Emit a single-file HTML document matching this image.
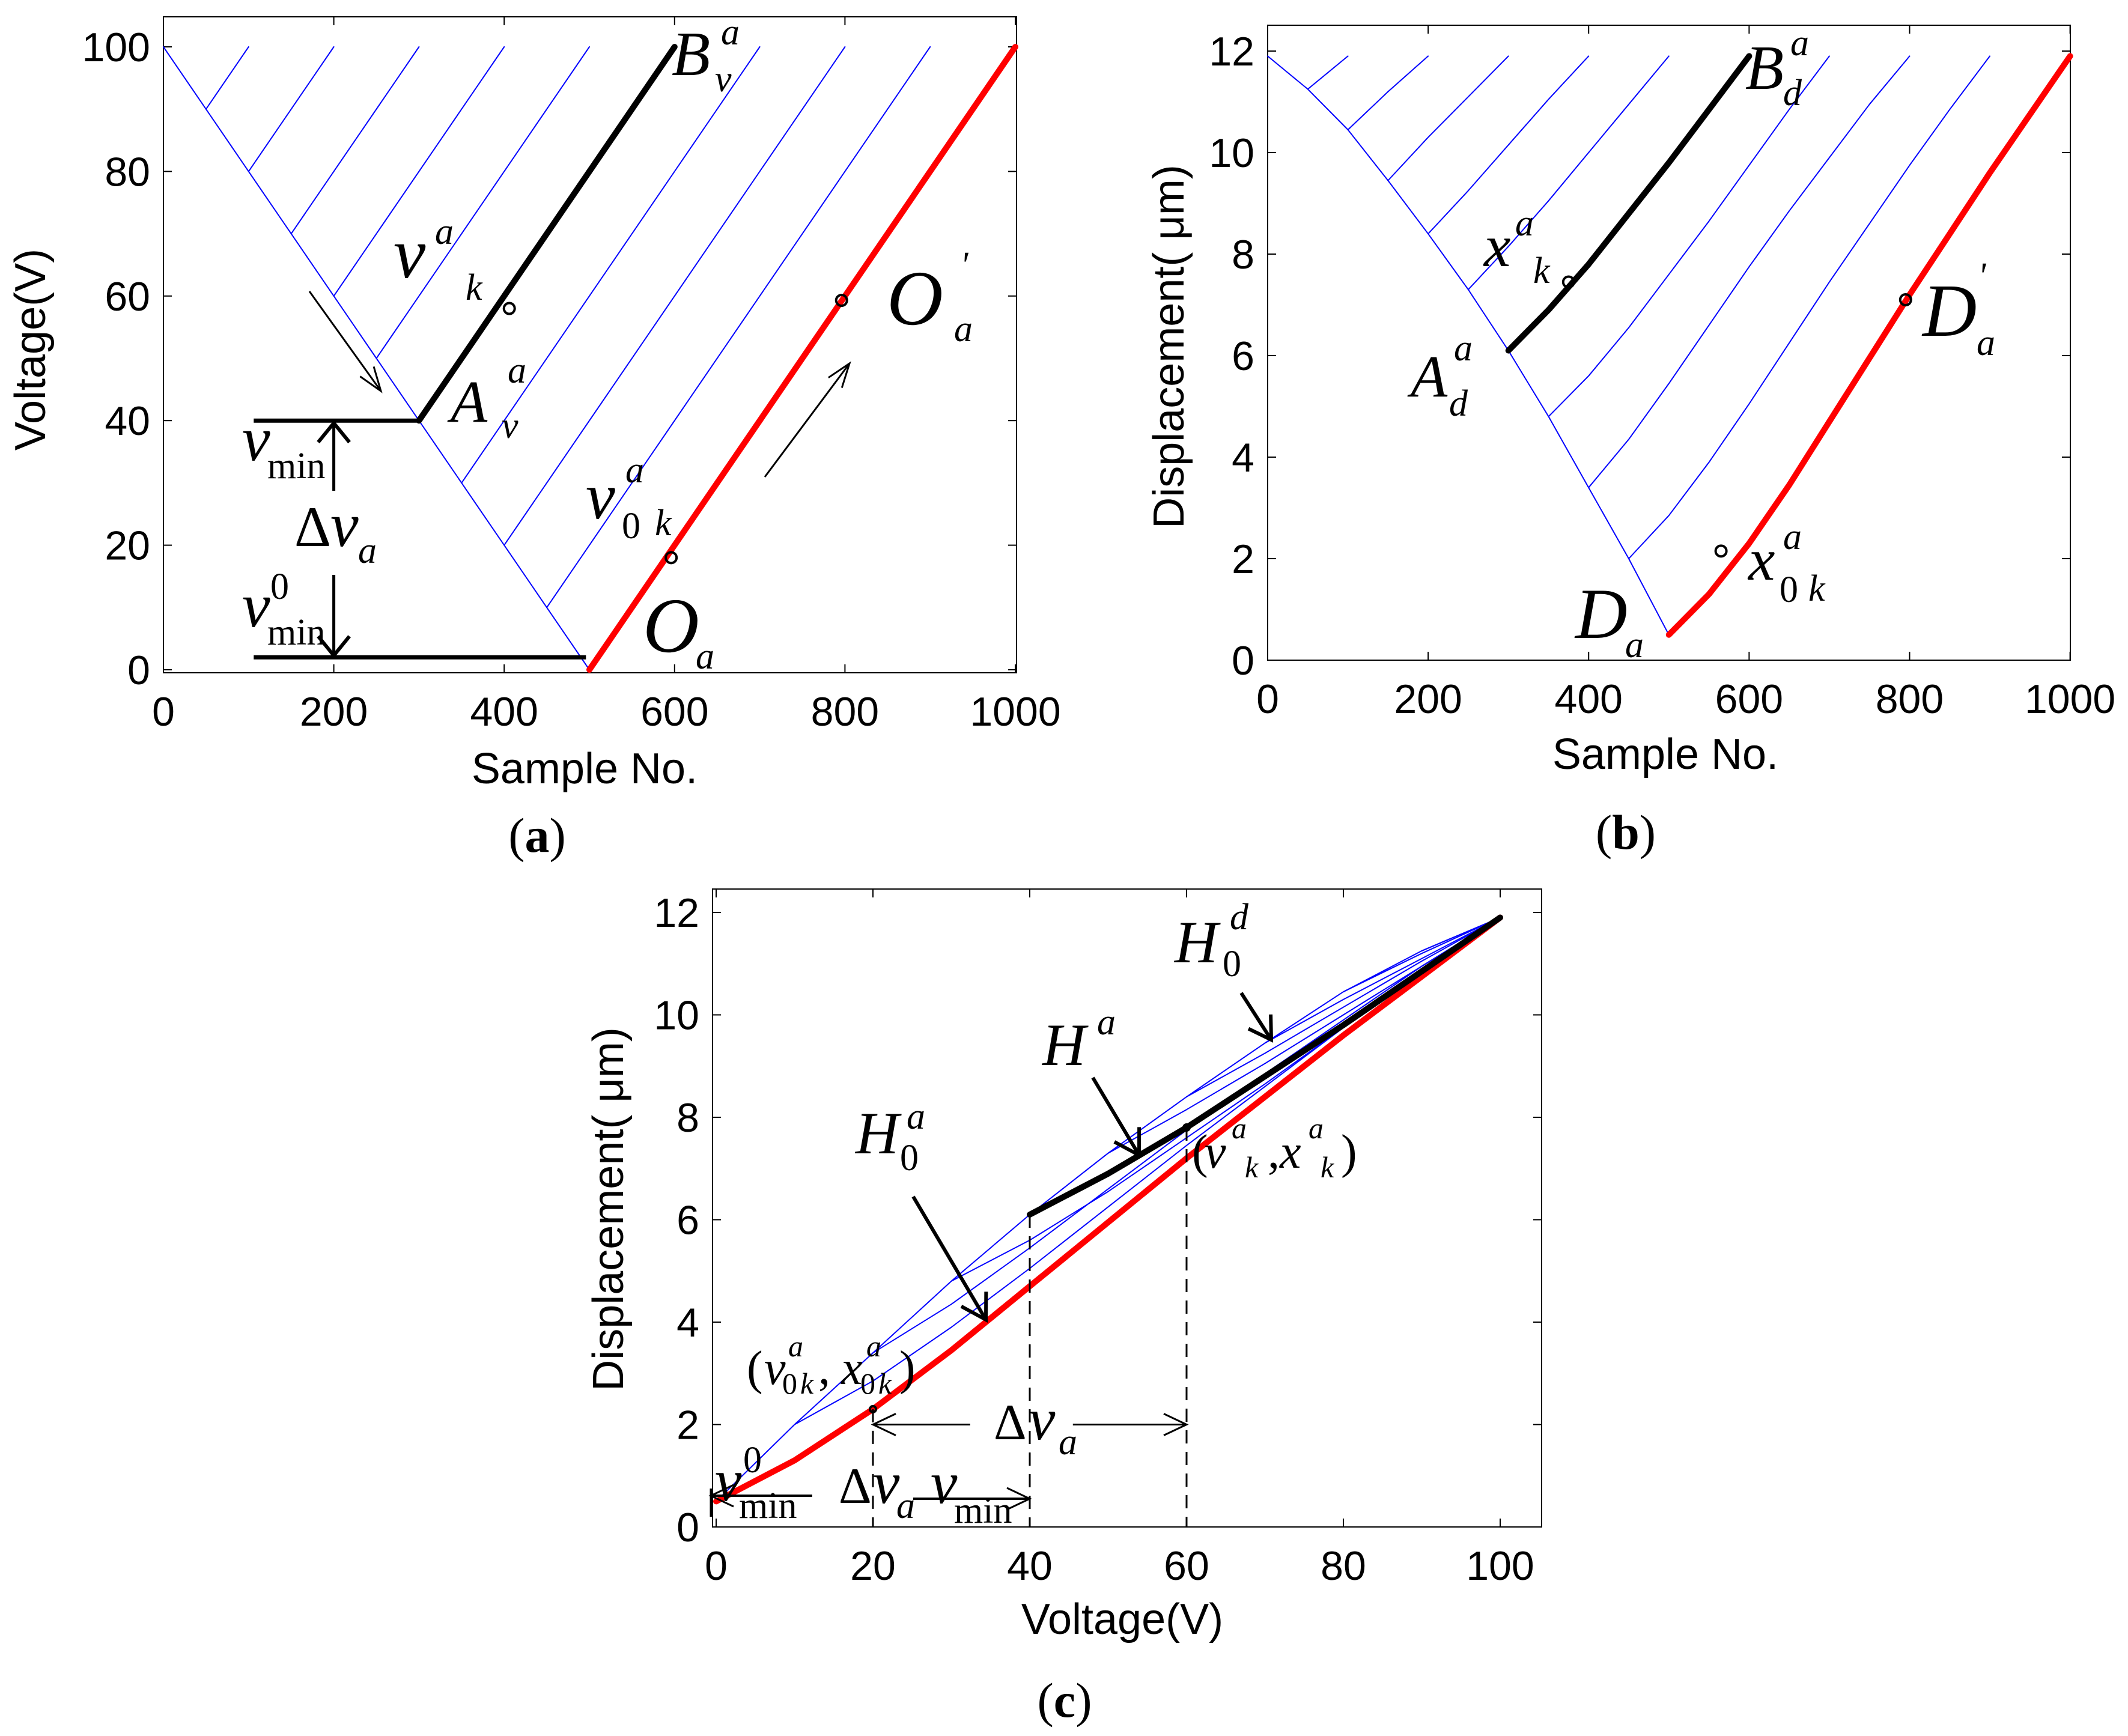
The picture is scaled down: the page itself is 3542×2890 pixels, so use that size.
<!DOCTYPE html>
<html><head><meta charset="utf-8"><style>
html,body{margin:0;padding:0;background:#fff;}
svg{display:block;}
.tk{font-family:"Liberation Sans",sans-serif;font-size:68px;fill:#000;}
.al{font-family:"Liberation Sans",sans-serif;font-size:72px;fill:#000;}
.it{font-family:"Liberation Serif",serif;font-style:italic;fill:#000;}
.rm{font-family:"Liberation Serif",serif;fill:#000;}
.cap{font-family:"Liberation Serif",serif;font-size:82px;fill:#000;}
</style></head><body>
<svg id="fig" xmlns="http://www.w3.org/2000/svg" width="3542" height="2890" viewBox="0 0 3542 2890">
<rect x="0" y="0" width="3542" height="2890" fill="#fff"/>
<g id="pa"></g>
<g id="pb"></g>
<g id="pc"></g>

<g>
<text class="it" x="1118" y="125" font-size="105">B</text><text class="it" x="1200" y="74" font-size="62">a</text><text class="it" x="1190" y="152" font-size="62">v</text>
<text class="it" x="655" y="462" font-size="120">v</text><text class="it" x="724" y="406" font-size="62">a</text><text class="it" x="775" y="499" font-size="62">k</text>
<text class="it" x="750" y="702" font-size="100">A</text><text class="it" x="845" y="637" font-size="62">a</text><text class="it" x="835" y="729" font-size="62">v</text>
<text class="it" x="1476" y="540" font-size="130">O</text><text class="it" x="1598" y="462" font-size="62">'</text><text class="it" x="1588" y="568" font-size="62">a</text>
<text class="it" x="975" y="863" font-size="110">v</text><text class="it" x="1041" y="803" font-size="62">a</text><text class="rm" x="1035" y="896" font-size="62">0</text><text class="it" x="1090" y="891" font-size="62">k</text>
<text class="it" x="1070" y="1085" font-size="130">O</text><text class="it" x="1158" y="1113" font-size="62">a</text>
<text class="it" x="403" y="766" font-size="105">v</text><text class="rm" x="445" y="796" font-size="62">min</text>
<text class="rm" x="490" y="909" font-size="95">Δ</text><text class="it" x="550" y="909" font-size="105">v</text><text class="it" x="596" y="937" font-size="62">a</text>
<text class="it" x="403" y="1043" font-size="105">v</text><text class="rm" x="450" y="997" font-size="62">0</text><text class="rm" x="445" y="1073" font-size="62">min</text>
</g>
<g>
<text class="it" x="2905" y="148" font-size="105">B</text><text class="it" x="2980" y="92" font-size="62">a</text><text class="it" x="2968" y="175" font-size="62">d</text>
<text class="it" x="2470" y="443" font-size="100">x</text><text class="it" x="2522" y="392" font-size="62">a</text><text class="it" x="2552" y="471" font-size="62">k</text>
<text class="it" x="2348" y="660" font-size="100">A</text><text class="it" x="2420" y="600" font-size="62">a</text><text class="it" x="2412" y="692" font-size="62">d</text>
<text class="it" x="3200" y="559" font-size="125">D</text><text class="it" x="3292" y="480" font-size="62">'</text><text class="it" x="3290" y="591" font-size="62">a</text>
<text class="it" x="2910" y="965" font-size="100">x</text><text class="it" x="2968" y="914" font-size="62">a</text><text class="rm" x="2962" y="1002" font-size="62">0</text><text class="it" x="3010" y="1000" font-size="62">k</text>
<text class="it" x="2622" y="1062" font-size="120">D</text><text class="it" x="2705" y="1094" font-size="62">a</text>
</g>
<g>
<text class="it" x="1955" y="1602" font-size="100">H</text><text class="it" x="2047" y="1547" font-size="62">d</text><text class="rm" x="2035" y="1625" font-size="62">0</text>
<text class="it" x="1735" y="1773" font-size="100">H</text><text class="it" x="1826" y="1722" font-size="62">a</text>
<text class="it" x="1424" y="1920" font-size="100">H</text><text class="it" x="1509" y="1879" font-size="62">a</text><text class="rm" x="1498" y="1948" font-size="62">0</text>
<text class="rm" x="1984" y="1944" font-size="80">(</text><text class="it" x="2005" y="1944" font-size="80">v</text><text class="it" x="2050" y="1895" font-size="50">a</text><text class="it" x="2072" y="1960" font-size="50">k</text><text class="rm" x="2110" y="1944" font-size="80">,</text><text class="it" x="2130" y="1944" font-size="80">x</text><text class="it" x="2178" y="1895" font-size="50">a</text><text class="it" x="2198" y="1960" font-size="50">k</text><text class="rm" x="2232" y="1944" font-size="80">)</text>
<text class="rm" x="1243" y="2304" font-size="80">(</text><text class="it" x="1272" y="2304" font-size="80">v</text><text class="it" x="1312" y="2258" font-size="50">a</text><text class="rm" x="1302" y="2320" font-size="50">0</text><text class="it" x="1332" y="2320" font-size="50">k</text><text class="rm" x="1362" y="2304" font-size="80">,</text><text class="it" x="1400" y="2304" font-size="80">x</text><text class="it" x="1442" y="2258" font-size="50">a</text><text class="rm" x="1432" y="2320" font-size="50">0</text><text class="it" x="1462" y="2320" font-size="50">k</text><text class="rm" x="1497" y="2304" font-size="80">)</text>
<text class="rm" x="1654" y="2396" font-size="85">Δ</text><text class="it" x="1712" y="2396" font-size="100">v</text><text class="it" x="1762" y="2421" font-size="62">a</text>
<text class="it" x="1190" y="2498" font-size="100">v</text><text class="rm" x="1237" y="2451" font-size="62">0</text><text class="rm" x="1230" y="2527" font-size="62">min</text>
<text class="rm" x="1396" y="2502" font-size="85">Δ</text><text class="it" x="1453" y="2502" font-size="100">v</text><text class="it" x="1492" y="2527" font-size="62">a</text><text class="it" x="1549" y="2502" font-size="100">v</text><text class="rm" x="1588" y="2535" font-size="62">min</text>
</g>
<g>
<text class="cap" x="894" y="1418" text-anchor="middle"><tspan>(</tspan><tspan font-weight="bold">a</tspan><tspan>)</tspan></text>
<text class="cap" x="2706" y="1413" text-anchor="middle"><tspan>(</tspan><tspan font-weight="bold">b</tspan><tspan>)</tspan></text>
<text class="cap" x="1772" y="2858" text-anchor="middle"><tspan>(</tspan><tspan font-weight="bold">c</tspan><tspan>)</tspan></text>
</g>
</svg>
<script>
const vGrid = [0,10,20,30,40,50,60,70,80,90,100];
const descDisp = [0.5,2.0,3.4,4.8,6.1,7.3,8.4,9.45,10.45,11.25,11.9];
const descSamples = [0,50,100,150,200,250,300,350,400,450,500];
const descVoltage = [100,90,80,70,60,50,40,30,20,10,0];
const branchMin = [0,10,20,30,40,50,60,70,80,90];
const branch0 = [0.5,1.3,2.3,3.45,4.7,5.95,7.2,8.4,9.6,10.75,11.9];
const branch10 = [2.0,2.85,3.9,5.05,6.25,7.45,8.6,9.75,10.85,11.9];
const branch20 = [3.4,4.35,5.45,6.6,7.75,8.85,9.9,10.95,11.9];
const branch30 = [4.8,5.6,6.55,7.6,8.65,9.75,10.85,11.9];
const branch40 = [6.1,6.9,7.8,8.8,9.8,10.85,11.9];
const branch50 = [7.3,8.15,9.05,10.0,10.95,11.9];
const branch60 = [8.4,9.25,10.15,11.05,11.9];
const branch70 = [9.45,10.3,11.1,11.9];
const branch80 = [10.45,11.2,11.9];
const branch90 = [11.25,11.9];
const branches = [branch0,branch10,branch20,branch30,branch40,branch50,branch60,branch70,branch80,branch90];
const peakVoltage = 100;
const samplesPerVolt = 5;
const descEnd = 500;
const xTicksA = [0,200,400,600,800,1000];
const yTicksA = [0,20,40,60,80,100];
const yTicksB = [0,2,4,6,8,10,12];
const xTicksC = [0,20,40,60,80,100];
const highlight = 40;
const markA = [[406,58],[596,18],[796,59.3]];
const markB = [[375,7.45],[565,2.15],[795,7.1]];
const markC = [[20,2.3],[60,7.8]];

const NS='http://www.w3.org/2000/svg';
function mk(tag, parent){const e=document.createElementNS(NS,tag);parent.appendChild(e);return e;}
function poly(parent, pts, color, w){
  const p=mk('polyline',parent);
  p.setAttribute('points',pts.map(q=>q[0].toFixed(1)+','+q[1].toFixed(1)).join(' '));
  p.setAttribute('fill','none');p.setAttribute('stroke',color);p.setAttribute('stroke-width',w);
  p.setAttribute('stroke-linejoin','round');p.setAttribute('stroke-linecap','round');
  return p;
}
function line(parent,x1,y1,x2,y2,w,dash){
  const l=mk('line',parent);
  l.setAttribute('x1',x1);l.setAttribute('y1',y1);l.setAttribute('x2',x2);l.setAttribute('y2',y2);
  l.setAttribute('stroke','#000');l.setAttribute('stroke-width',w);
  if(dash)l.setAttribute('stroke-dasharray',dash);
  return l;
}
function text(parent,x,y,s,cls,anchor){
  const t=mk('text',parent);t.setAttribute('x',x);t.setAttribute('y',y);t.setAttribute('class',cls);
  if(anchor)t.setAttribute('text-anchor',anchor);t.textContent=s;return t;
}
function head(parent,x,y,ang,len,half,w){
  const a=ang*Math.PI/180;
  const bx=x-len*Math.cos(a), by=y-len*Math.sin(a);
  const px=-Math.sin(a)*half, py=Math.cos(a)*half;
  const p=mk('polyline',parent);
  p.setAttribute('points',`${bx+px},${by+py} ${x},${y} ${bx-px},${by-py}`);
  p.setAttribute('fill','none');p.setAttribute('stroke','#000');p.setAttribute('stroke-width',w);
  return p;
}
function arrow(parent,x1,y1,x2,y2,w,len,half,hw){
  const l=line(parent,x1,y1,x2,y2,w);
  const ang=Math.atan2(y2-y1,x2-x1)*180/Math.PI;
  head(parent,x2,y2,ang,len,half,hw||w);
  return l;
}
function circ(parent,x,y,r){
  const c=mk('circle',parent);c.setAttribute('cx',x);c.setAttribute('cy',y);c.setAttribute('r',r);
  c.setAttribute('fill','none');c.setAttribute('stroke','#000');c.setAttribute('stroke-width',4);return c;
}
function frame(g,L,T,R,B,xt,yt,X,Y,xlab,ylab,tickLen){
  const r=mk('rect',g);r.setAttribute('x',L);r.setAttribute('y',T);r.setAttribute('width',R-L);r.setAttribute('height',B-T);
  r.setAttribute('fill','none');r.setAttribute('stroke','#000');r.setAttribute('stroke-width',2);
  
  xt.forEach(v=>{const x=X(v);line(g,x,B,x,B-tickLen,2);line(g,x,T,x,T+tickLen,2);
    const t=text(g,x,B+88,String(v),'tk','middle');
    
    });
  yt.forEach(v=>{const y=Y(v);line(g,L,y,L+tickLen,y,2);line(g,R,y,R-tickLen,y,2);
    const t=text(g,L-22,y+24,String(v),'tk','end');
    
    });
  const xl=text(g,xlab[1],xlab[2],xlab[0],'al','middle');
  
  
  const yl=text(g,0,0,ylab[0],'al','middle');
  yl.setAttribute('transform',`translate(${ylab[1]},${ylab[2]}) rotate(-90)`);
  
  
}
function colorOf(i){return branchMin[i]===0?'#ff0000':(branchMin[i]===highlight?'#000':'#0000ff');}
function widthOf(i){return branchMin[i]===0||branchMin[i]===highlight?10:2;}

(function(){
  const g=document.getElementById('pa');
  const X=s=>272+s*1.418, Y=v=>1115-v*10.37;
  frame(g,272,28,1692,1120,xTicksA,yTicksA,X,Y,['Sample No.',973,1304],['Voltage(V)',75,582],14);
  const d=poly(g,descSamples.map((s,i)=>[X(s),Y(descVoltage[i])]),'#0000ff',2);
  
  
  branches.forEach((b,i)=>{
    const vmin=branchMin[i], s0=descEnd-vmin*samplesPerVolt;
    const pts=[[X(s0),Y(vmin)],[X(s0+(peakVoltage-vmin)*samplesPerVolt),Y(peakVoltage)]];
    const p=poly(g,pts,colorOf(i),widthOf(i));
    
    
  });
  markA.forEach(m=>{const c=circ(g,X(m[0]),Y(m[1]),9);
    
    });
  line(g,X(106),Y(40),X(300),Y(40),7);
  line(g,X(106),Y(2),X(496),Y(2),7);
  arrow(g,X(200),817,X(200),Y(40)+4,5,32,26,6);
  arrow(g,X(200),957,X(200),Y(2)-3,5,32,26,6);
  arrow(g,515,485,634,651,3,40,14,3);
  arrow(g,1273,794,1414,605,3,40,14,3);
})();

(function(){
  const g=document.getElementById('pb');
  const X=s=>2110+s*1.3356, Y=d=>1099-d*84.5;
  frame(g,2110,42,3446,1099,xTicksA,yTicksB,X,Y,['Sample No.',2772,1280],['Displacement( μm)',1970,577],14);
  const d=poly(g,descSamples.map((s,i)=>[X(s),Y(descDisp[descDisp.length-1-i])]),'#0000ff',2);
  
  
  branches.forEach((b,i)=>{
    const vmin=branchMin[i], s0=descEnd-vmin*samplesPerVolt;
    const pts=b.map((x,j)=>[X(s0+j*10*samplesPerVolt),Y(x)]);
    const p=poly(g,pts,colorOf(i),widthOf(i));
    
    
  });
  markB.forEach(m=>{const c=circ(g,X(m[0]),Y(m[1]),9);
    
    });
})();

(function(){
  const g=document.getElementById('pc');
  const X=v=>1192+v*13.05, Y=d=>2542-d*85.25;
  frame(g,1186,1480,2566,2542,xTicksC,yTicksB,X,Y,['Voltage(V)',1868,2720],['Displacement( μm)',1037,2013],14);
  const order=[1,2,3,5,6,7,8,9,0,4];
  const d=poly(g,vGrid.map((v,i)=>[X(v),Y(descDisp[i])]),'#0000ff',2);
  
  
  order.forEach(i=>{
    const b=branches[i], vmin=branchMin[i];
    const p=poly(g,b.map((x,j)=>[X(vmin+j*10),Y(x)]),colorOf(i),widthOf(i));
    
    
  });
  markC.forEach(m=>{const c=circ(g,X(m[0]),Y(m[1]),5);
    
    });
  line(g,X(20),Y(2.3),X(20),2542,3,'22,14');
  line(g,X(40),Y(6.1),X(40),2542,3,'22,14');
  line(g,X(60),Y(7.8),X(60),2542,3,'22,14');
  arrow(g,X(32.4),Y(2),X(20),Y(2),3,38,18,3);
  arrow(g,X(45.5),Y(2),X(60),Y(2),3,38,18,3);
  arrow(g,1352,2490,1183,2490,4,38,18,3);
  arrow(g,1520,2495,X(40),2495,4,38,18,3);
  line(g,1184,2478,1184,2525,5);
  arrow(g,2066,1653,2116,1731,6,36,22,6);
  arrow(g,1819,1794,1896,1923,6,40,24,6);
  arrow(g,1520,1992,1641,2197,6,40,24,6);
})();
</script>
</body></html>
